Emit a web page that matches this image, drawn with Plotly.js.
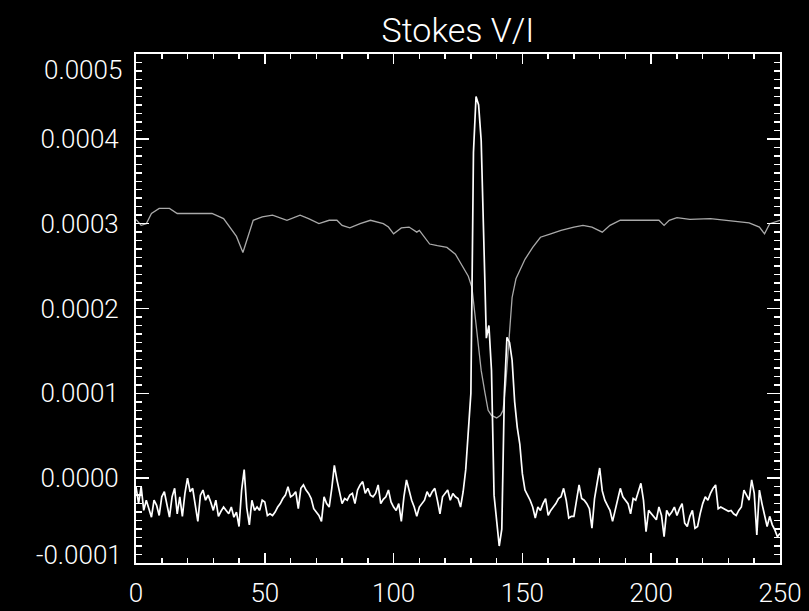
<!DOCTYPE html>
<html>
<head>
<meta charset="utf-8">
<script src="https://cdn.plot.ly/plotly-3.0.1.min.js"></script>
<style>html,body{margin:0;padding:0;background:#000;}#chart{width:809px;height:611px;}</style>
</head>
<body>
<div id="chart"></div>
<script>
// Stokes V/I (units of 1e-5), one value per pixel 0..250
const pixel = Array.from({length: 251}, (_, i) => i);
const stokesV_e5 = [
 -1.0,-3.0,-1.0,-3.8,-2.6,-3.6,-4.6,-2.6,-3.2,-4.4,
 -2.2,-1.6,-3.0,-4.6,-2.2,-1.2,-4.2,-2.2,-4.5,-1.8,
  0.0,-1.6,-1.2,-3.0,-5.1,-2.0,-1.4,-2.6,-2.0,-2.8,
 -3.8,-2.6,-4.5,-3.9,-3.4,-3.8,-4.2,-3.4,-4.6,-4.0,
 -5.7,-1.4, 1.0,-3.5,-5.5,-2.6,-3.8,-3.4,-3.8,-2.6,
 -2.8,-4.4,-4.2,-4.4,-4.0,-3.4,-3.0,-2.4,-2.0,-1.0,
 -2.2,-2.0,-1.6,-3.6,-1.2,-0.8,-1.4,-1.8,-2.4,-3.6,
 -4.0,-4.4,-5.1,-2.2,-3.0,-3.4,-1.2, 1.5,-0.2,-1.5,
 -3.0,-2.4,-2.6,-2.0,-1.8,-3.0,-1.4,-0.8,-0.4,-1.8,
 -1.2,-2.0,-2.2,-1.8,-0.8,-3.0,-2.5,-2.2,-1.4,-2.8,
 -3.4,-3.8,-3.0,-5.1,-2.2,-0.2,-1.6,-2.6,-3.4,-4.5,
 -3.4,-3.0,-2.6,-1.6,-2.2,-1.6,-1.2,-2.6,-4.2,-2.2,
 -1.8,-1.4,-2.6,-1.8,-2.2,-2.4,-3.4,-1.6, 1.0, 6.0,
 10.0,38.4,45.0,44.0,39.8,28.2,16.5,18.0,12.7,-2.0,
 -5.0,-8.0,-6.0,10.0,16.6,16.0,13.9, 9.0, 6.0, 4.0,
  0.5,-1.4,-2.0,-2.6,-3.4,-4.7,-3.4,-3.8,-3.0,-2.4,
 -4.4,-3.8,-3.4,-3.0,-2.4,-2.2,-1.2,-2.6,-4.7,-4.5,
 -4.5,-2.6,-0.8,-2.4,-2.6,-3.0,-3.6,-5.9,-2.4,-0.6,
  1.2,-1.5,-2.6,-3.2,-3.8,-5.1,-3.9,-2.5,-1.2,-2.2,
 -2.6,-3.0,-4.2,-2.4,-2.6,-1.6,-0.6,-2.6,-6.3,-3.8,
 -4.2,-4.6,-4.9,-3.4,-4.4,-6.9,-3.8,-4.4,-4.0,-3.4,
 -4.4,-3.6,-3.0,-5.3,-5.7,-4.5,-3.8,-5.9,-5.7,-4.2,
 -3.0,-2.2,-2.6,-1.8,-1.2,-0.8,-3.6,-3.4,-3.6,-3.8,
 -3.9,-3.8,-4.2,-4.4,-3.8,-3.4,-1.4,-2.0,-2.6,-0.2,
 -1.8,-6.7,-1.4,-3.0,-4.2,-5.7,-4.5,-5.5,-6.1,-6.9,
 -6.5
];

// Scaled intensity profile (gray), units of 1e-5
const intensityX = [0,2,4,6,9,13,16,22,29.5,34,36.5,39,41.5,43,45.5,49,53,58.6,63.7,67,71,75,78,80,83,87,91,96,98,100,103,106,109,110,112,114,117,120.7,124,127,129,130.4,131.6,133,134,135.5,136.7,138,140,141.5,142.5,143.5,144.5,146,147.5,149,151,154,157,161,165,170,173.5,177,181,184,188,195,203,205,207,210,215,223,230,238,242,244,246,248,250];
const intensityY_e5 = [30.5,29.8,30.0,31.2,31.8,31.8,31.2,31.2,31.2,30.6,29.5,28.5,26.6,28.0,30.4,30.8,31.0,30.4,31.0,30.6,30.0,30.4,30.4,29.8,29.5,30.0,30.4,30.0,29.6,28.8,29.5,29.6,29.0,29.2,28.4,27.6,27.4,27.2,26.4,24.8,23.8,22.5,19.4,16.0,12.7,10.0,8.0,7.4,7.1,7.4,8.0,11.0,15.4,21.3,23.5,24.5,25.8,27.2,28.4,28.8,29.2,29.6,29.8,29.6,29.0,29.8,30.4,30.4,30.4,29.8,30.4,30.7,30.5,30.6,30.4,30.1,29.6,28.8,30.0,30.2,30.4];

const yTickVals = [-0.0001, 0, 0.0001, 0.0002, 0.0003, 0.0004, 0.0005];
const yTickText = ['-0.0001','0.0000','0.0001','0.0002','0.0003','0.0004','0.0005'];
const xTickVals = [0, 50, 100, 150, 200, 250];
const xTickText = ['0','50','100','150','200','250'];

const scale = 1e-5;
const vY = stokesV_e5.map(v => v * scale);
const iY = intensityY_e5.map(v => v * scale);

const FONT = 'DejaVu Sans ExtraLight, Roboto Light, DejaVu Sans, sans-serif';

// end labels are drawn as annotations (inset like the reference)
const innerText = yTickText.map((t, i) => (i === 0 || i === yTickText.length - 1) ? '' : t);

const traces = [
  {x: intensityX, y: iY, type: 'scatter', mode: 'lines',
   line: {color: '#a9a9a9', width: 1.3}, hoverinfo: 'skip', showlegend: false},
  {x: pixel, y: vY, type: 'scatter', mode: 'lines',
   line: {color: '#ffffff', width: 1.7}, hoverinfo: 'skip', showlegend: false}
];

const tickFont = {family: FONT, size: 26, color: '#fff', weight: 300};

const layout = {
  width: 809, height: 611,
  paper_bgcolor: '#000', plot_bgcolor: '#000',
  margin: {l: 136, r: 29, t: 54, b: 48, pad: 0},
  font: {family: FONT, color: '#fff', size: 22},
  title: {text: 'Stokes V/I', font: {family: FONT, size: 34, color: '#fff', weight: 300},
          x: 0.5, xref: 'paper', xanchor: 'center', y: 0.951, yref: 'container', yanchor: 'middle'},
  showlegend: false,
  xaxis: {
    range: [0, 250], showgrid: false, zeroline: false,
    showline: true, linecolor: '#fff', linewidth: 2, mirror: 'allticks',
    ticks: 'inside', ticklen: 10, tickwidth: 1.5, tickcolor: '#fff',
    tickmode: 'array', tickvals: xTickVals, ticktext: xTickText,
    tickfont: tickFont,
    ticklabelstandoff: 6,
    minor: {dtick: 10, ticks: 'inside', ticklen: 5, tickwidth: 1.5, tickcolor: '#fff', showgrid: false}
  },
  yaxis: {
    range: [-0.0001, 0.0005], showgrid: false, zeroline: false,
    showline: true, linecolor: '#fff', linewidth: 2, mirror: 'allticks',
    ticks: 'inside', ticklen: 13, tickwidth: 1.5, tickcolor: '#fff',
    tickmode: 'array', tickvals: yTickVals, ticktext: innerText,
    tickfont: tickFont,
    ticklabelstandoff: 10,
    minor: {dtick: 0.00001, ticks: 'inside', ticklen: 6, tickwidth: 1.5, tickcolor: '#fff', showgrid: false}
  },
  annotations: [
    {xref: 'paper', x: 0, xanchor: 'right', xshift: -12, yref: 'y', y: yTickVals[yTickVals.length - 1],
     yanchor: 'middle', yshift: -16, text: yTickText[yTickText.length - 1], showarrow: false,
     font: tickFont},
    {xref: 'paper', x: 0, xanchor: 'right', xshift: -12, yref: 'y', y: yTickVals[0],
     yanchor: 'middle', yshift: 8, text: yTickText[0], showarrow: false,
     font: tickFont}
  ]
};

Plotly.newPlot('chart', traces, layout, {displayModeBar: false, staticPlot: true});
</script>
</body>
</html>
